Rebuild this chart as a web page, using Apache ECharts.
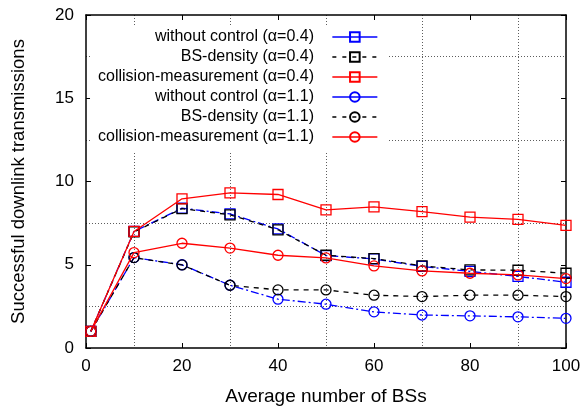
<!DOCTYPE html>
<html><head><meta charset="utf-8">
<script src="https://cdn.jsdelivr.net/npm/echarts@6/dist/echarts.min.js"></script>
<style>html,body{margin:0;padding:0;background:#fff}#c{width:587px;height:411px}</style>
</head><body><div id="c"></div>
<script>
const xs = [1, 10, 20, 30, 40, 50, 60, 70, 80, 90, 100];
const names = [
  'without control (α=0.4)',
  'BS-density (α=0.4)',
  'collision-measurement (α=0.4)',
  'without control (α=1.1)',
  'BS-density (α=1.1)',
  'collision-measurement (α=1.1)'
];
const noCtrl04  = [1.0, 7.0, 8.4, 8.05, 7.15, 5.55, 5.35, 4.9, 4.6, 4.3, 3.95];
const bsDens04  = [1.0, 6.97, 8.37, 8.0, 7.1, 5.57, 5.37, 4.93, 4.69, 4.67, 4.49];
const coll04    = [1.0, 7.0, 8.96, 9.32, 9.22, 8.3, 8.48, 8.19, 7.86, 7.72, 7.37];
const noCtrl11  = [1.0, 5.43, 5.0, 3.77, 2.93, 2.63, 2.17, 1.98, 1.93, 1.87, 1.78];
const bsDens11  = [1.0, 5.43, 4.99, 3.77, 3.49, 3.49, 3.17, 3.09, 3.17, 3.17, 3.09];
const coll11    = [1.0, 5.73, 6.29, 6.0, 5.57, 5.41, 4.93, 4.63, 4.49, 4.39, 4.17];
const xTicks = [0, 20, 40, 60, 80, 100];
const yTicks = [0, 5, 10, 15, 20];

const seriesVals = [noCtrl04, bsDens04, coll04, noCtrl11, bsDens11, coll11];
const colors = ['#0000ff', '#000000', '#ff0000', '#0000ff', '#000000', '#ff0000'];
const dashes = [[8,3,2,3], [5,5], 'solid', [8,3,2,3], [5,5], 'solid'];
const legendDashes = ['solid', [4,6], 'solid', 'solid', [4,6], 'solid'];
const symbols = ['rect', 'rect', 'rect', 'circle', 'circle', 'circle'];

const FONT = 'Liberation Sans';
const chart = echarts.init(document.getElementById('c'), null, {renderer: 'canvas'});

const series = seriesVals.map((vals, i) => ({
  name: names[i],
  type: 'line',
  xAxisIndex: 0, yAxisIndex: 0,
  data: vals.map((v, k) => [xs[k], v]),
  symbol: symbols[i],
  symbolSize: 10,
  showSymbol: true,
  lineStyle: {color: colors[i], width: 1.3, type: dashes[i]},
  itemStyle: {color: 'rgba(255,255,255,0)', borderColor: colors[i], borderWidth: 1.3},
  emphasis: {disabled: true},
  z: 3 + i
}));

const axisCommon = {
  min: 0,
  axisLine: {show: true, onZero: false, lineStyle: {color: '#000', width: 1.5}},
  axisTick: {show: true, inside: true, length: 5, lineStyle: {color: '#000', width: 1}},
  splitLine: {show: false},
  minorTick: {show: false, splitNumber: 2},
  minorSplitLine: {show: true, lineStyle: {color: '#333', width: 0.8, type: [1, 2]}}
};

chart.setOption({
  animation: false,
  backgroundColor: '#fff',
  grid: {left: 86, right: 21, top: 15, bottom: 62, containLabel: false},
  legend: {
    show: true,
    orient: 'vertical',
    align: 'right',
    right: 199,
    top: 25,
    itemWidth: 45,
    itemHeight: 12,
    itemGap: 4,
    padding: [4, 10, 6, 8],
    backgroundColor: '#fff',
    formatter: n => n + '   ',
    textStyle: {fontFamily: FONT, fontSize: 16, color: '#000'},
    data: names.map((n, i) => ({name: n, lineStyle: {type: legendDashes[i], width: 1.3, color: colors[i]}})),
    selectedMode: false,
    z: 10
  },
  xAxis: [
    Object.assign({}, axisCommon, {
      type: 'value', position: 'bottom', max: 100, interval: 20,
      name: 'Average number of BSs', nameLocation: 'middle', nameGap: 39,
      nameTextStyle: {fontFamily: FONT, fontSize: 19, color: '#000'},
      axisLabel: {show: true, margin: 10, fontFamily: FONT, fontSize: 17, color: '#000',
        formatter: v => xTicks.includes(v) ? String(v) : ''}
    }),
    Object.assign({}, axisCommon, {
      type: 'value', position: 'top', max: 100, interval: 20,
      axisLabel: {show: false}, minorSplitLine: {show: false}
    })
  ],
  yAxis: [
    Object.assign({}, axisCommon, {
      type: 'value', position: 'left', max: 20, interval: 5,
      name: 'Successful downlink transmissions', nameLocation: 'middle', nameGap: 58,
      nameTextStyle: {fontFamily: FONT, fontSize: 18.5, color: '#000'},
      axisLabel: {show: true, margin: 12, fontFamily: FONT, fontSize: 17, color: '#000',
        formatter: v => yTicks.includes(v) ? String(v) : ''}
    }),
    Object.assign({}, axisCommon, {
      type: 'value', position: 'right', max: 20, interval: 5,
      axisLabel: {show: false}, minorSplitLine: {show: false}
    })
  ],
  series: series
});
</script>
</body></html>
